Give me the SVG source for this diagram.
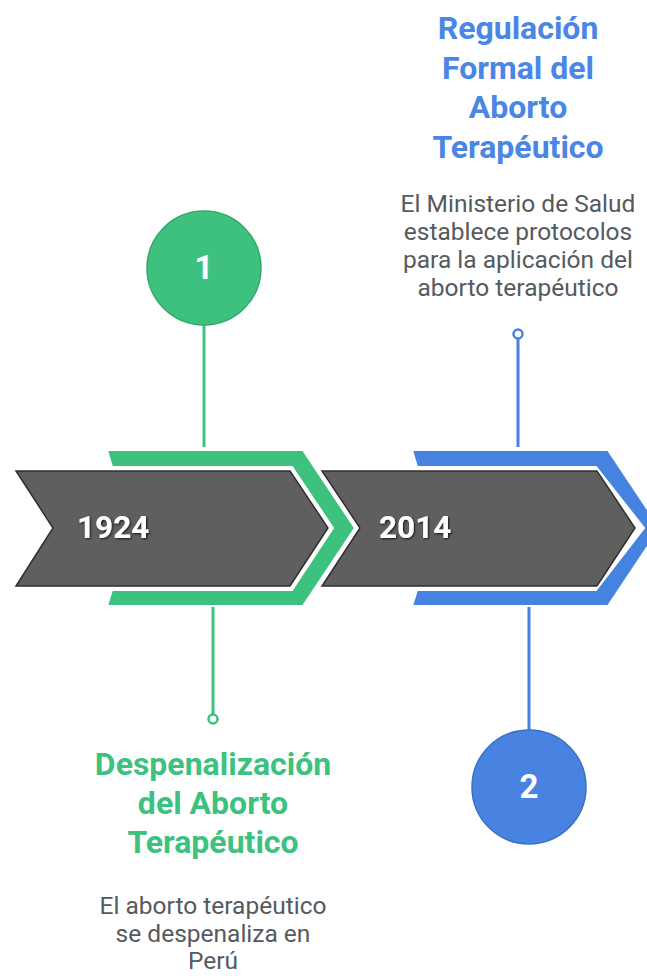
<svg xmlns="http://www.w3.org/2000/svg" width="647" height="976" viewBox="0 0 647 976">
<defs>
<style>
.arrow{fill:#5f5f5f;stroke:#2e2e2e;stroke-width:1.5;stroke-linejoin:miter}
.band-g{fill:#3cc17f;stroke:#ffffff;stroke-width:2}
.band-b{fill:#4682e0;stroke:#ffffff;stroke-width:2}
.year{font-family:Roboto,"Liberation Sans",sans-serif;font-weight:bold;font-size:31.5px;fill:#ffffff}
.title{font-family:Roboto,"Liberation Sans",sans-serif;font-weight:bold;font-size:32px;text-anchor:middle}
.body{font-family:Roboto,"Liberation Sans",sans-serif;font-size:24.5px;fill:#555a5e;text-anchor:middle}
.num{font-family:Roboto,"Liberation Sans",sans-serif;font-weight:bold;font-size:33px;fill:#ffffff;text-anchor:middle}
.lg{stroke:#3cc17f;stroke-width:3;fill:none}
.lb{stroke:#4682e0;stroke-width:3;fill:none}
</style>
<filter id="ts" x="-20%" y="-30%" width="140%" height="160%">
<feDropShadow dx="1" dy="1" stdDeviation="1.2" flood-color="#000" flood-opacity="0.8"/>
</filter>
</defs>
<g id="connectors">
<line class="lg" x1="204" y1="325" x2="204" y2="447"/>
<line class="lg" x1="213" y1="606" x2="213" y2="715"/>
<circle cx="213" cy="719" r="4.5" fill="#ffffff" stroke="#3cc17f" stroke-width="2.5"/>
<line class="lb" x1="518" y1="338" x2="518" y2="447"/>
<circle cx="518" cy="334" r="4.5" fill="#ffffff" stroke="#4682e0" stroke-width="2.5"/>
<line class="lb" x1="529" y1="606" x2="529" y2="730"/>
</g>
<g id="step2014">
<polygon class="arrow" points="322,471 597,471 635,528 597,586 322,586 360,528"/>
<polygon class="band-b" points="412,450 608,450 660,528 608,606 412,606 417,590 596,590 644,528 596,467 417,467"/>
<text class="year" x="379" y="538" filter="url(#ts)">2014</text>
</g>
<g id="step1924">
<polygon class="arrow" points="16,471 290,471 328,528 290,586 16,586 53,528"/>
<polygon class="band-g" points="107,450 303,450 355,528 303,606 107,606 112,590 292,590 333,528 292,467 112,467"/>
<text class="year" x="77" y="538" filter="url(#ts)">1924</text>
</g>
<g id="circle1">
<circle cx="204" cy="268" r="57" fill="#3ec17e" stroke="#33a86c" stroke-width="1.5"/>
<text class="num" x="204" y="279">1</text>
</g>
<g id="circle2">
<circle cx="529" cy="787" r="57" fill="#4883e2" stroke="#3a6fc4" stroke-width="1.5"/>
<text class="num" x="529" y="798">2</text>
</g>
<g id="event2014">
<text class="title" fill="#4a86e6"><tspan x="518" y="39">Regulación</tspan><tspan x="518" y="79">Formal del</tspan><tspan x="518" y="118">Aborto</tspan><tspan x="518" y="158">Terapéutico</tspan></text>
<text class="body"><tspan x="518" y="212">El Ministerio de Salud</tspan><tspan x="518" y="240">establece protocolos</tspan><tspan x="518" y="268">para la aplicación del</tspan><tspan x="518" y="296">aborto terapéutico</tspan></text>
</g>
<g id="event1924">
<text class="title" fill="#3cc17f"><tspan x="213" y="775">Despenalización</tspan><tspan x="213" y="814">del Aborto</tspan><tspan x="213" y="853">Terapéutico</tspan></text>
<text class="body"><tspan x="213" y="914">El aborto terapéutico</tspan><tspan x="213" y="942">se despenaliza en</tspan><tspan x="213" y="969">Perú</tspan></text>
</g>
</svg>
